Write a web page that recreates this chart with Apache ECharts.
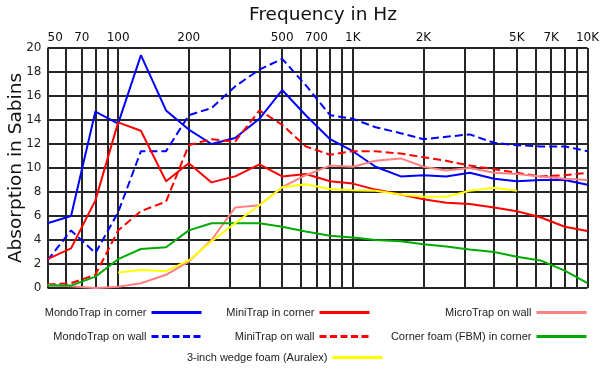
<!DOCTYPE html>
<html>
<head>
<meta charset="utf-8">
<script src="https://cdn.jsdelivr.net/npm/echarts@6/dist/echarts.min.js"></script>
<style>
html,body{margin:0;padding:0;background:#fff;}
#chart{width:606px;height:373px;}
</style>
</head>
<body>
<div id="chart"></div>
<script>
// 1/3-octave frequencies (Hz)
const freqs = [50, 63, 80, 100, 125, 160, 200, 250, 315, 400, 500, 630, 800, 1000, 1250, 1600, 2000, 2500, 3150, 4000, 5000, 6300, 8000, 10000];

// Absorption in Sabins
const mondoCorner = [5.4, 6.0, 14.7, 13.7, 19.4, 14.8, 13.2, 12.0, 12.5, 14.1, 16.5, 14.4, 12.4, 11.4, 10.1, 9.3, 9.4, 9.3, 9.6, 9.1, 8.9, 9.0, 9.0, 8.6];
const mondoWall   = [2.3, 4.8, 2.9, 6.3, 11.4, 11.4, 14.4, 15.0, 16.8, 18.2, 19.1, 16.9, 14.4, 14.1, 13.4, 12.9, 12.4, 12.6, 12.8, 12.1, 11.9, 11.8, 11.8, 11.4];
const miniCorner  = [2.4, 3.3, 7.3, 13.8, 13.1, 8.9, 10.4, 8.8, 9.3, 10.3, 9.3, 9.5, 8.9, 8.7, 8.2, 7.8, 7.4, 7.1, 7.0, 6.7, 6.4, 5.9, 5.1, 4.75];
const miniWall    = [0.3, 0.4, 1.1, 4.8, 6.4, 7.2, 11.9, 12.4, 12.2, 14.8, 13.6, 11.8, 11.1, 11.4, 11.4, 11.2, 10.9, 10.6, 10.2, 9.9, 9.6, 9.3, 9.4, 9.6];
const microWall   = [0.25, 0.15, 0.0, 0.1, 0.4, 1.1, 2.2, 4.0, 6.7, 6.9, 8.4, 9.4, 10.2, 10.1, 10.6, 10.8, 10.1, 9.8, 10.0, 9.6, 9.5, 9.3, 9.1, 9.0];
const cornerFoam  = [0.2, 0.2, 0.95, 2.4, 3.25, 3.4, 4.8, 5.4, 5.4, 5.4, 5.1, 4.7, 4.35, 4.2, 4.0, 3.9, 3.65, 3.45, 3.2, 3.0, 2.6, 2.3, 1.45, 0.4];
const wedgeFoam   = [null, null, null, 1.3, 1.5, 1.4, 2.3, 3.9, 5.4, 6.9, 8.4, 8.65, 8.25, 8.15, 8.1, 7.8, 7.6, 7.6, 8.1, 8.35, 8.1, null, null, null];

// Vertical grid lines and top tick labels
const gridFreqs = [50, 60, 70, 80, 90, 100, 200, 300, 400, 500, 600, 700, 800, 900, 1000, 2000, 3000, 4000, 5000, 6000, 7000, 8000, 9000, 10000];
const tickFreqs  = [50, 70, 100, 200, 500, 700, 1000, 2000, 5000, 7000, 10000];
const tickLabels = ['50', '70', '100', '200', '500', '700', '1K', '2K', '5K', '7K', '10K'];

const names = ['MondoTrap in corner', 'MondoTrap on wall', 'MiniTrap in corner', 'MiniTrap on wall',
               'MicroTrap on wall', 'Corner foam (FBM) in corner', '3-inch wedge foam (Auralex)'];
const colors = ['#0000ff', '#0000ff', '#ff0000', '#ff0000', '#ff8080', '#00aa00', '#ffff00'];
const dashed = [false, true, false, true, false, false, false];
const seriesData = [mondoCorner, mondoWall, miniCorner, miniWall, microWall, cornerFoam, wedgeFoam];

const chart = echarts.init(document.getElementById('chart'), null, {renderer: 'canvas'});

const gridMarks = gridFreqs.map(f => {
  const k = tickFreqs.indexOf(f);
  const item = {xAxis: f};
  if (k >= 0) {
    item.label = {show: true, formatter: tickLabels[k]};
    if (f === 50) item.label.align = 'left';
  } else {
    item.label = {show: false};
  }
  return item;
});

const series = [{
  type: 'line',
  name: '__grid',
  data: [],
  z: 0,
  silent: true,
  markLine: {
    silent: true,
    symbol: 'none',
    animation: false,
    lineStyle: {type: 'solid', color: '#262626', width: 2},
    label: {
      position: 'end', distance: 4, color: '#111',
      fontSize: 12, fontFamily: 'DejaVu Sans'
    },
    emphasis: {disabled: true},
    data: gridMarks
  }
}];

seriesData.forEach((arr, i) => {
  series.push({
    type: 'line',
    name: names[i],
    z: 5,
    symbol: 'none',
    connectNulls: false,
    lineStyle: {color: colors[i], width: 2, type: dashed[i] ? [8, 4] : 'solid'},
    itemStyle: {color: colors[i]},
    data: freqs.map((f, j) => [f, arr[j]])
  });
});

// legend placement: [name index, right, top]
const legendPos = [
  [0, 403, 307], [2, 235, 307], [4, 18, 307],
  [1, 403, 331], [3, 235, 331], [5, 18, 331],
  [6, 222, 352]
];
const legends = legendPos.map(([i, r, t]) => ({
  data: [names[i]],
  right: r, top: t,
  orient: 'horizontal',
  align: 'right',
  padding: 0,
  itemWidth: 50, itemHeight: 14,
  selectedMode: false,
  textStyle: {fontSize: 11, color: '#222', fontFamily: 'Liberation Sans'},
  itemStyle: {opacity: 0, borderWidth: 0},
  lineStyle: {width: 3, type: dashed[i] ? [7, 3.5] : 'solid'}
}));

chart.setOption({
  animation: false,
  backgroundColor: '#fff',
  title: {
    text: 'Frequency in Hz',
    left: 318, top: 1, textAlign: 'center',
    textStyle: {fontSize: 18.5, fontWeight: 'normal', color: '#111', fontFamily: 'DejaVu Sans'}
  },
  legend: legends,
  grid: {left: 47.5, right: 18.5, top: 48, bottom: 85, containLabel: false, outerBoundsMode: 'none'},
  xAxis: {
    type: 'log', logBase: 10, min: 50, max: 10000,
    axisLine: {show: false}, axisTick: {show: false},
    axisLabel: {show: false}, splitLine: {show: false}
  },
  yAxis: {
    type: 'value', min: 0, max: 20, interval: 2,
    name: 'Absorption in Sabins', nameLocation: 'middle', nameGap: 22, nameMoveOverlap: false,
    nameTextStyle: {fontSize: 18.5, color: '#111', fontFamily: 'DejaVu Sans'},
    axisLine: {show: false}, axisTick: {show: false},
    axisLabel: {fontSize: 12, color: '#222', margin: 6, fontFamily: 'DejaVu Sans'},
    splitLine: {show: true, lineStyle: {color: '#262626', width: 2}}
  },
  series: series
});
</script>
</body>
</html>
